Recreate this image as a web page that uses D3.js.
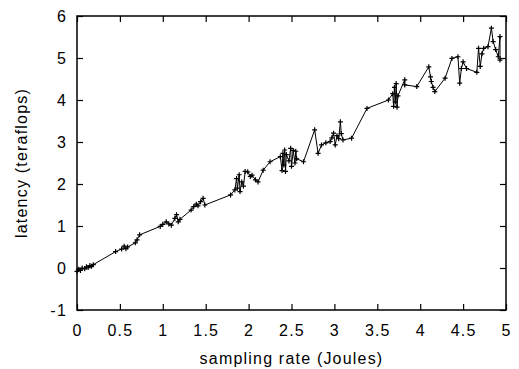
<!DOCTYPE html>
<html>
<head>
<meta charset="utf-8">
<script src="https://cdn.jsdelivr.net/npm/d3@7"></script>
<style>
  body { margin: 0; background: #fff; }
  svg text { font-family: "Liberation Sans", Arial, sans-serif; fill: #000; }
</style>
</head>
<body>
<svg id="chart" width="519" height="369"></svg>
<script>
// measured points of the latency curve
const xs = [0.00,0.02,0.04,0.06,0.09,0.11,0.13,0.15,0.17,0.19,
  0.45,0.52,0.55,0.57,0.59,0.68,0.70,0.73,
  0.97,1.00,1.04,1.07,1.10,1.14,1.16,1.18,1.20,
  1.33,1.36,1.39,1.41,1.44,1.47,1.49,
  1.79,1.84,1.86,1.87,1.89,1.90,1.92,1.94,1.96,1.99,2.02,2.04,2.08,2.11,2.17,2.25,
  2.37,2.39,2.40,2.41,2.42,2.43,2.44,2.47,2.49,2.50,2.52,2.54,2.55,2.56,2.64,
  2.77,2.81,2.85,2.90,2.95,2.97,2.99,3.01,3.03,3.05,3.07,3.08,3.10,3.20,
  3.38,3.63,3.68,3.69,3.70,3.71,3.72,3.73,3.74,3.82,3.82,3.96,
  4.10,4.12,4.13,4.15,4.17,4.29,4.37,4.44,4.46,4.48,4.50,4.54,
  4.66,4.68,4.70,4.72,4.74,4.79,4.83,4.85,4.88,4.91,4.93,4.93];
const ys = [-0.08,-0.03,-0.06,0.00,-0.02,0.03,0.01,0.06,0.04,0.08,
  0.39,0.45,0.52,0.46,0.50,0.60,0.67,0.79,
  0.99,1.04,1.10,1.05,1.02,1.18,1.27,1.10,1.16,
  1.38,1.46,1.52,1.48,1.58,1.66,1.50,
  1.74,1.86,2.13,1.90,2.22,1.82,2.05,1.95,2.30,2.29,2.18,2.21,2.10,2.05,2.33,2.53,
  2.65,2.32,2.73,2.45,2.81,2.30,2.70,2.55,2.85,2.42,2.80,2.50,2.78,2.60,2.53,
  3.29,2.73,2.93,2.98,3.01,3.10,3.21,2.93,3.15,3.08,3.48,3.20,3.05,3.09,
  3.80,4.00,4.15,3.85,4.30,3.95,4.39,3.83,4.10,4.48,4.36,4.32,
  4.79,4.55,4.44,4.30,4.20,4.52,4.99,5.03,4.40,4.75,4.91,4.75,
  4.66,5.23,4.80,5.10,5.23,5.27,5.71,5.39,5.20,5.03,5.51,4.95];
const xTicks = [0, 0.5, 1, 1.5, 2, 2.5, 3, 3.5, 4, 4.5, 5];
const yTicks = [-1, 0, 1, 2, 3, 4, 5, 6];
const xLabel = "sampling rate (Joules)";
const yLabel = "latency (teraflops)";

const data = xs.map((x, i) => ({ x: x, y: ys[i] }));

const svg = d3.select("#chart");
const m = { left: 77, right: 506, top: 16, bottom: 310 };

const x = d3.scaleLinear().domain([0, 5]).range([m.left, m.right]);
const y = d3.scaleLinear().domain([-1, 6]).range([m.bottom, m.top]);

const tickLen = 6;
const fmt = d => String(d);

// bottom axis with labels
svg.append("g")
  .attr("transform", "translate(0," + m.bottom + ")")
  .call(d3.axisBottom(x).tickValues(xTicks).tickSize(-tickLen).tickPadding(15).tickFormat(fmt))
  .call(g => g.select(".domain").remove())
  .selectAll("text")
  .attr("font-size", 16).attr("letter-spacing", "1.2px").attr("dy", "0.71em")
  .attr("font-family", "Liberation Sans, Arial, sans-serif");

// top mirror ticks
svg.append("g")
  .attr("transform", "translate(0," + m.top + ")")
  .call(d3.axisTop(x).tickValues(xTicks).tickSize(-tickLen).tickFormat(""))
  .call(g => g.select(".domain").remove());

// left axis with labels
svg.append("g")
  .attr("transform", "translate(" + m.left + ",0)")
  .call(d3.axisLeft(y).tickValues(yTicks).tickSize(-tickLen).tickPadding(10).tickFormat(fmt))
  .call(g => g.select(".domain").remove())
  .selectAll("text")
  .attr("font-size", 16).attr("letter-spacing", "1.2px")
  .attr("font-family", "Liberation Sans, Arial, sans-serif");

// right mirror ticks
svg.append("g")
  .attr("transform", "translate(" + m.right + ",0)")
  .call(d3.axisRight(y).tickValues(yTicks).tickSize(-tickLen).tickFormat(""))
  .call(g => g.select(".domain").remove());

svg.selectAll(".tick line").attr("stroke", "#000").attr("stroke-width", 1.2);

// frame
svg.append("rect")
  .attr("x", m.left).attr("y", m.top)
  .attr("width", m.right - m.left).attr("height", m.bottom - m.top)
  .attr("fill", "none").attr("stroke", "#000").attr("stroke-width", 1.5);

// the line
const line = d3.line().x(d => x(d.x)).y(d => y(d.y));
svg.append("path")
  .datum(data)
  .attr("d", line)
  .attr("fill", "none")
  .attr("stroke", "#000")
  .attr("stroke-width", 1);

// point markers (+)
svg.selectAll("path.pt")
  .data(data)
  .enter()
  .append("path")
  .attr("class", "pt")
  .attr("transform", d => "translate(" + x(d.x) + "," + y(d.y) + ")")
  .attr("d", "M-2.5,0H2.5M0,-2.5V2.5")
  .attr("stroke", "#000")
  .attr("stroke-width", 1.2);

// axis titles
svg.append("text")
  .attr("x", (m.left + m.right) / 2).attr("y", 364)
  .attr("text-anchor", "middle")
  .attr("font-size", 16).attr("letter-spacing", "1.2px")
  .text(xLabel);

svg.append("text")
  .attr("transform", "translate(27," + ((m.top + m.bottom) / 2) + ") rotate(-90)")
  .attr("text-anchor", "middle")
  .attr("font-size", 16).attr("letter-spacing", "1.2px")
  .text(yLabel);
</script>
</body>
</html>
